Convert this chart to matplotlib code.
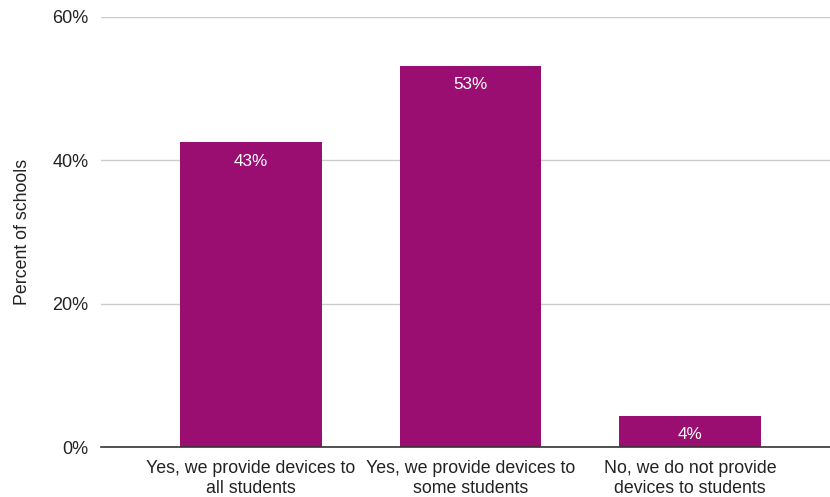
import matplotlib.pyplot as plt
import numpy as np

categories = ['Yes, we provide devices to\nall students',
              'Yes, we provide devices to\nsome students',
              'No, we do not provide\ndevices to students']
values = [42.5, 53.2, 4.3]
labels = ['43%', '53%', '4%']
yticks = [0, 20, 40, 60]

plt.rcParams['font.family'] = ['Liberation Sans', 'DejaVu Sans']

fig = plt.figure(figsize=(8.3, 4.97), dpi=100)
ax = fig.add_axes([0.1217, 0.1006, 0.8783, 0.8652])

x = np.arange(len(categories))
bars = ax.bar(x, values, width=0.645, color='#9A0E72', zorder=3)

for b, lab in zip(bars, labels):
    ax.text(b.get_x() + b.get_width() / 2, b.get_height() - 2.6, lab,
            ha='center', va='center', color='white', fontsize=12.3, zorder=4)

ax.set_xlim(-0.682, 2.636)
ax.set_ylim(0, 60)
ax.set_yticks(yticks)
ax.set_yticklabels([f'{t}%' for t in yticks], fontsize=13, color='#222222')
ax.set_xticks(x)
ax.set_xticklabels(categories, fontsize=12.8, color='#222222', linespacing=1.3)
ax.tick_params(axis='x', length=0, pad=9)
ax.tick_params(axis='y', length=0, pad=9)

ax.grid(axis='y', color='#cccccc', linewidth=1, zorder=0)
for s in ['top', 'right', 'left']:
    ax.spines[s].set_visible(False)
ax.spines['bottom'].set_color('#333333')
ax.spines['bottom'].set_linewidth(1.2)
ax.spines['bottom'].set_zorder(5)

ax.set_ylabel('Percent of schools', fontsize=12.8, color='#222222', labelpad=15)

fig.savefig('out.png', dpi=100)
